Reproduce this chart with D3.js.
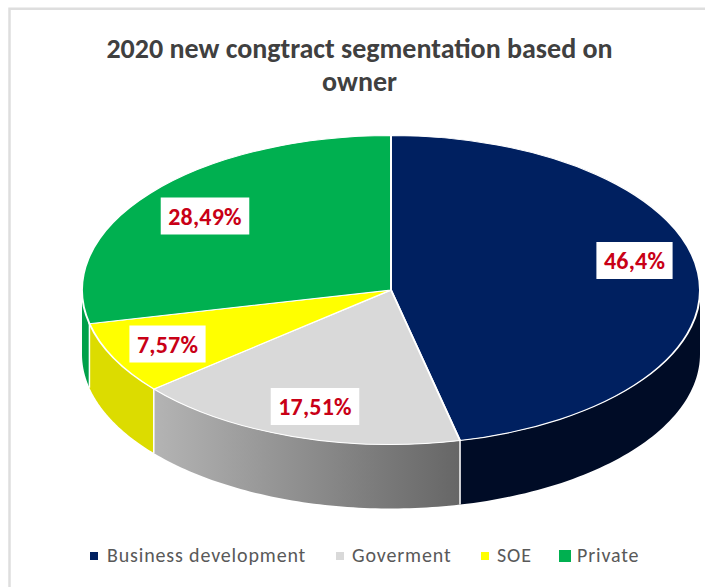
<!DOCTYPE html>
<html>
<head>
<meta charset="utf-8">
<script src="https://cdn.jsdelivr.net/npm/d3@7/dist/d3.min.js"></script>
<style>
  html, body { margin: 0; padding: 0; background: #fff; }
  svg { display: block; }
</style>
</head>
<body>
<svg id="chart" width="705" height="587"></svg>
<script>
// Owner segments and their share of new contracts
const categories = ["Business development", "Goverment", "SOE", "Private"];
const shares = [46.4, 17.51, 7.57, 28.49];
const shareLabels = ["46,4%", "17,51%", "7,57%", "28,49%"];
const topColors = ["#002060", "#d9d9d9", "#ffff00", "#00b050"];
const wallColors = ["#000c26", "#888888", "#dcdc00", "#00a04a"];
const titleLines = ["2020 new congtract segmentation based on", "owner"];

const svg = d3.select("#chart");
const W = 705, H = 587;
const cx = 391, cy = 290, rx = 309, ry = 154.5, depth = 64;
const font = "Carlito, Lato, 'Open Sans', sans-serif";

// Frame along the top and left of the chart area
svg.append("path")
  .attr("d", `M9.5,${H}V8.7H${W}`)
  .attr("fill", "none").attr("stroke", "#dedede").attr("stroke-width", 2.5);

// Tilted disc: projection of an angle (clockwise from 12 o'clock) on the rim
const rimX = a => cx + rx * Math.sin(a);
const rimY = a => cy - ry * Math.cos(a);

const slices = d3.pie().sort(null).value(d => d)(shares);

const defs = svg.append("defs");
const wallGrad = defs.append("linearGradient")
  .attr("id", "wall-grey").attr("gradientUnits", "userSpaceOnUse")
  .attr("x1", rimX(slices[1].endAngle)).attr("x2", rimX(slices[1].startAngle))
  .attr("y1", 0).attr("y2", 0);
wallGrad.append("stop").attr("offset", 0).attr("stop-color", "#b4b4b4");
wallGrad.append("stop").attr("offset", 1).attr("stop-color", "#666666");

// Side wall of each slice, only where the rim faces the viewer
const HALF = Math.PI / 2, FULL = Math.PI * 2;
const frontEnd = FULL - HALF;
const wallLine = d3.line().x(d => d[0]).y(d => d[1]);
const walls = svg.append("g");
slices.forEach((s, i) => {
  const from = Math.max(s.startAngle, HALF);
  const to = Math.min(s.endAngle, frontEnd);
  if (to <= from) return;
  const arcAngles = d3.range(0, 61).map(k => from + (to - from) * k / 60);
  const upper = arcAngles.map(a => [rimX(a), rimY(a)]);
  const lower = arcAngles.slice().reverse().map(a => [rimX(a), rimY(a) + depth]);
  walls.append("path")
    .attr("d", wallLine(upper.concat(lower)) + "Z")
    .attr("fill", i === 1 ? "url(#wall-grey)" : wallColors[i]);
});

// White seams where neighbouring walls meet
walls.selectAll("line")
  .data(slices.filter(s => s.endAngle > HALF && s.endAngle < frontEnd))
  .join("line")
  .attr("x1", d => rimX(d.endAngle)).attr("x2", d => rimX(d.endAngle))
  .attr("y1", d => rimY(d.endAngle)).attr("y2", d => rimY(d.endAngle) + depth)
  .attr("stroke", "#fff").attr("stroke-width", 1.5);

// Top face: a flat pie squashed vertically
const arc = d3.arc().innerRadius(0).outerRadius(rx);
svg.append("g")
  .attr("transform", `translate(${cx},${cy}) scale(1,${ry / rx})`)
  .selectAll("path")
  .data(slices)
  .join("path")
  .attr("d", arc)
  .attr("fill", (d, i) => topColors[i])
  .attr("stroke", "#fff")
  .attr("stroke-width", 2);

// Value labels on white plates
const labelCentres = [[634.5, 260.5], [315, 406.5], [167.5, 344], [205, 216]];
const labels = svg.append("g");
shareLabels.forEach((t, i) => {
  const g = labels.append("g").attr("transform", `translate(${labelCentres[i]})`);
  const txt = g.append("text")
    .attr("text-anchor", "middle").attr("y", 8.5)
    .attr("font-family", font).attr("font-weight", 700).attr("font-size", 24)
    .attr("letter-spacing", 0.2)
    .attr("fill", "#c90016").text(t);
  const w = txt.node().getComputedTextLength();
  g.insert("rect", "text")
    .attr("x", -w / 2 - 7.5).attr("y", -18.5).attr("width", w + 15).attr("height", 37)
    .attr("fill", "#fff");
});

// Title
svg.append("g").selectAll("text")
  .data(titleLines)
  .join("text")
  .attr("x", 359.5).attr("y", (d, i) => 58 + i * 33)
  .attr("text-anchor", "middle")
  .attr("font-family", font).attr("font-weight", 700).attr("font-size", 28)
  .attr("fill", "#404040")
  .text(d => d);

// Legend
const swatchX = [90, 336, 481, 559];
const swatchSize = [8, 8, 8, 12];
const legendTextX = [107, 352, 497, 577];
const legend = svg.append("g");
categories.forEach((c, i) => {
  const s = swatchSize[i];
  legend.append("rect")
    .attr("x", swatchX[i]).attr("y", 556 - s / 2).attr("width", s).attr("height", s)
    .attr("fill", topColors[i]);
  legend.append("text")
    .attr("x", legendTextX[i]).attr("y", 562)
    .attr("font-family", font).attr("font-size", 20).attr("letter-spacing", 0.85)
    .attr("fill", "#595959").text(c);
});
</script>
</body>
</html>
